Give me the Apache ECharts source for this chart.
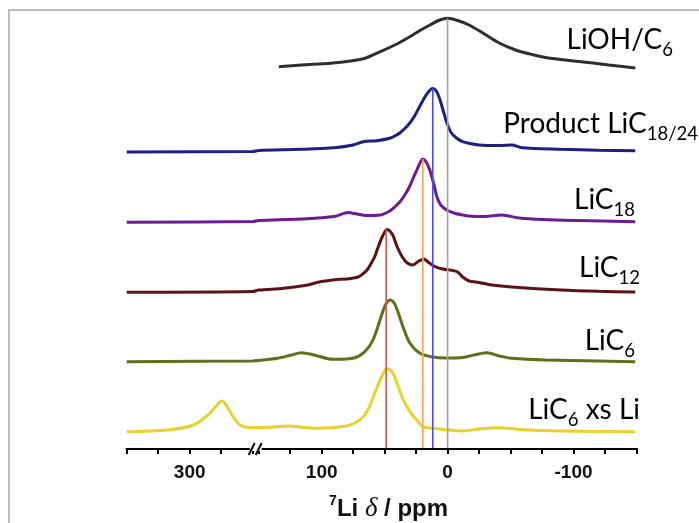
<!DOCTYPE html>
<html><head><meta charset="utf-8">
<script src="https://cdn.jsdelivr.net/npm/echarts@6/dist/echarts.min.js"></script>
<style>html,body{margin:0;padding:0;background:#fff}#c{width:699px;height:523px}</style>
</head><body><div id="c"></div>
<script>
// ---- data ----
const tickLabels = [300, 100, 0, -100];
const axisBreak = [150, 250];
const spectrumNames = ['LiOH/C6', 'Product LiC18/24', 'LiC18', 'LiC12', 'LiC6', 'LiC6 xs Li'];
const offsets = [381, 298, 227, 157, 87, 17];
const colors = ['#2e2e2e', '#1f1f82', '#6c1c92', '#5a1216', '#5f6f1c', '#e8d12c'];

const specLiOH = [[134,1.3],[116,3],[93,4.7],[77,7],[65,10],[53.5,16.3],[42,23],[30,31.3],[22,37.5],[14,43],[6.3,48],[0,49.7],[-8,47.5],[-17,43],[-28,35],[-41,25],[-54,18],[-67,13.5],[-80,10],[-106,6.3],[-128,3],[-149,0]];
const specProduct = [[350,-1],[250,-0.5],[150,0.5],[116,1.7],[90,3.3],[75,6],[67,9.3],[56,10.3],[46,12.7],[42,15],[38,18],[34,22.5],[30,28],[26,35.5],[22,45],[18,54],[15,59.5],[12,62.5],[9,60],[6,51],[3,38],[0,26],[-3,18],[-7,13],[-12,9.3],[-18,7.5],[-25,6],[-41,5.5],[-51,6],[-59,3.3],[-90,1.7],[-120,0.7],[-149,0.3]];
const specLiC18 = [[350,-0.3],[250,0.5],[150,1.5],[116,3],[90,5.5],[79,9.5],[72,8],[65,6.5],[53.5,7],[46,11],[42,15],[38,20],[34,27],[30,36],[27,45],[24.4,52],[22,59],[19.7,63],[17,60],[14.2,52],[11,38],[8.7,26],[6,18],[3,14],[0,11.5],[-5,9],[-12,7],[-17,6],[-29,5.5],[-43,7],[-57,4],[-76,2.5],[-104,1.5],[-149,0.3]];
const specLiC12 = [[350,-0.3],[250,0.5],[150,2],[130,3.7],[111,7],[101,10.3],[91,12],[77,13.5],[71,15],[67,18.5],[64,22],[61,28],[58,35],[56,42],[52,55],[48,62.5],[44,58],[40,45],[36,35],[32,29],[27.6,27],[22.8,31],[18.9,33],[15,29.5],[10.2,25.5],[3.9,23],[-3.9,21.5],[-8,20],[-12,15],[-17,11],[-25,9.5],[-35,7],[-51,5],[-90,2],[-120,0.7],[-149,0]];
const specLiC6 = [[350,0.3],[250,1],[150,1.5],[135,3.7],[124,7],[116,9.3],[106,7],[91,2.7],[78,3.2],[72,5],[68,8],[65,11.5],[62,16],[59,23],[56,33],[52,48.5],[49,58],[45.7,62],[42.5,59],[39.4,50],[35.4,35],[30,19],[22,8.7],[12,5],[1,4],[-12,4.5],[-21,7],[-31,9.3],[-41,6],[-51,3.7],[-78,2],[-149,0.3]];
const specXsLi = [[350,0.3],[318,2],[297,7],[284,18.7],[279,26],[274.4,31],[270.4,26],[266.4,17],[260,7],[250,4.3],[150,4.5],[142,4.7],[127,6],[103,3.7],[80,6],[73,9.5],[67,15.3],[63,23],[59,35],[55.9,45],[53.5,52],[50.4,60],[48,63.7],[45.7,62],[43.3,58.7],[40.2,48.7],[36.2,35],[32.3,25.3],[28,17],[24.4,12],[19.7,5.3],[11.8,3.7],[-12,1],[-25,3],[-39,4.3],[-65,2],[-104,0.7],[-149,0.3]];
const spectra = [specLiOH, specProduct, specLiC18, specLiC12, specLiC6, specXsLi];

// reference lines: ppm position, spectrum whose peak they start from, colour
const refPpm = [0, 11.8, 19.7, 48.8];
const refSpectrum = [0, 1, 2, 3];
const refColors = ['#a3a3a3', '#4b4be6', '#f2a35e', '#d9534c'];

// labels: main text, subscript, trailing text
const labelMain = ['LiOH/C', 'Product LiC', 'LiC', 'LiC', 'LiC', 'LiC'];
const labelSub = ['6', '18/24', '18', '12', '6', '6'];
const labelTail = ['', '', '', '', '', ' xs Li'];
// ---- end data ----

const chart = echarts.init(document.getElementById('c'));

const series = spectra.map((sp, i) => ({
  type: 'line', name: spectrumNames[i], showSymbol: false, smooth: 0.3, z: 3,
  lineStyle: { color: colors[i], width: 3 },
  data: sp.map(([p, v]) => [p, v + offsets[i]])
}));
refPpm.forEach((p, k) => {
  const j = refSpectrum[k];
  const top = offsets[j] + Math.max(...spectra[j].map(d => d[1]));
  series.push({
    type: 'line', showSymbol: false, z: 4, silent: true,
    lineStyle: { color: refColors[k], width: 1.6 },
    data: [[p, top], [p, 0]]
  });
});

const labelPos = [[673, 49], [698, 133], [635, 209], [640, 277], [635, 350], [640, 419]];
const richLab = {
  m: { fontFamily: 'Lato', fontSize: 28, lineHeight: 32, color: '#111' },
  s: { fontFamily: 'Lato', fontSize: 18.5, lineHeight: 32, color: '#111', padding: [20, 0, 0, 0] }
};

chart.setOption({
  animation: false,
  backgroundColor: '#fff',
  grid: { left: 126.7, right: 62.5, top: 9, bottom: 74, containLabel: false, outerBoundsMode: 'none' },
  xAxis: {
    type: 'value', inverse: true, min: -150, max: 350, interval: 25,
    breaks: [{ start: axisBreak[0], end: axisBreak[1], gap: '1.2%' }],
    breakArea: { show: false },
    axisLine: { show: true, onZero: false, lineStyle: { color: '#000', width: 2 } },
    axisTick: { show: true, length: 5, lineStyle: { color: '#000', width: 2 } },
    splitLine: { show: false },
    axisLabel: {
      formatter: v => tickLabels.includes(v) ? String(v) : '',
      color: '#111', fontWeight: 'bold', fontSize: 19, fontFamily: 'Liberation Sans', margin: 14
    },
    name: '{sup|7}{b|Li }{d|δ}{b| / ppm}',
    nameLocation: 'middle', nameGap: 46,
    nameTextStyle: {
      padding: [0, 0, 0, 14],
      rich: {
        sup: { fontFamily: 'Liberation Sans', fontWeight: 'bold', fontSize: 14, lineHeight: 28, color: '#111', padding: [0, 0, 15, 0] },
        b: { fontFamily: 'Liberation Sans', fontWeight: 'bold', fontSize: 24, lineHeight: 28, color: '#111' },
        d: { fontFamily: 'Liberation Serif', fontStyle: 'italic', fontSize: 27, lineHeight: 28, color: '#111' }
      }
    }
  },
  yAxis: { type: 'value', min: 0, max: 440, show: false },
  series: series
});

const yAxisPx = chart.convertToPixel({ yAxisIndex: 0 }, 0);
const xStart = chart.convertToPixel({ xAxisIndex: 0 }, 350);
const xEnd = chart.convertToPixel({ xAxisIndex: 0 }, -150);
const bx = (chart.convertToPixel({ xAxisIndex: 0 }, axisBreak[0]) + chart.convertToPixel({ xAxisIndex: 0 }, axisBreak[1])) / 2;

const graphics = [
  { type: 'line', shape: { x1: 8, y1: 10, x2: 699, y2: 10 }, style: { stroke: '#bdbdbd', lineWidth: 2 }, silent: true },
  { type: 'line', shape: { x1: 9, y1: 10, x2: 9, y2: 523 }, style: { stroke: '#bdbdbd', lineWidth: 2 }, silent: true },
  { type: 'line', shape: { x1: xStart - 1, y1: yAxisPx, x2: xEnd + 1, y2: yAxisPx }, style: { stroke: '#000', lineWidth: 2 }, z: 8, silent: true },
  { type: 'rect', shape: { x: bx - 6, y: yAxisPx - 2, width: 12, height: 4 }, style: { fill: '#fff' }, z: 9 },
  { type: 'line', shape: { x1: bx - 7, y1: yAxisPx + 6, x2: bx - 1, y2: yAxisPx - 6 }, style: { stroke: '#000', lineWidth: 2 }, z: 10 },
  { type: 'line', shape: { x1: bx, y1: yAxisPx + 6, x2: bx + 6, y2: yAxisPx - 6 }, style: { stroke: '#000', lineWidth: 2 }, z: 10 }
];
labelMain.forEach((m, i) => {
  let t = '{m|' + m + '}{s|' + labelSub[i] + '}';
  if (labelTail[i]) t += '{m|' + labelTail[i] + '}';
  graphics.push({
    type: 'text', z: 10,
    style: { text: t, x: labelPos[i][0], y: labelPos[i][1] - 25, align: 'right', verticalAlign: 'top', rich: richLab }
  });
});
chart.setOption({ graphic: graphics });
</script>
</body></html>
